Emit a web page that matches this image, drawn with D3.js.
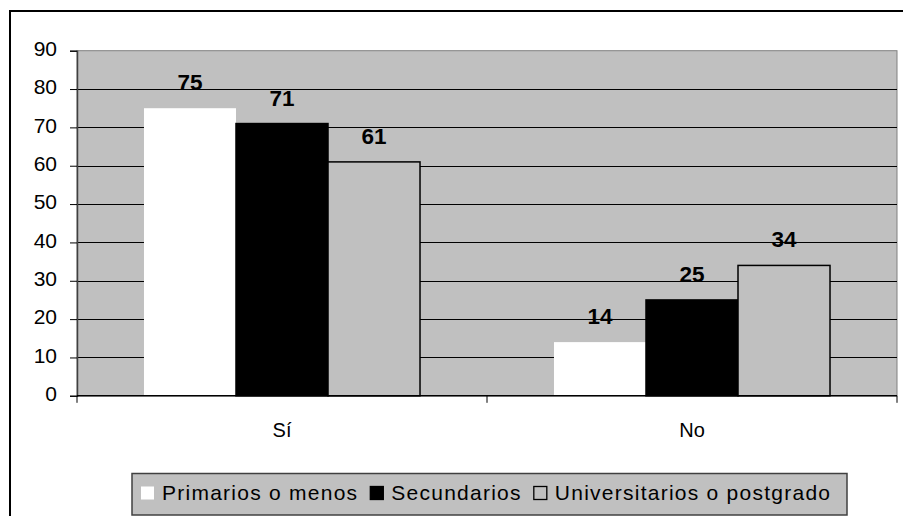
<!DOCTYPE html>
<html>
<head>
<meta charset="utf-8">
<script src="https://cdn.jsdelivr.net/npm/d3@7"></script>
<style>
  html, body { margin: 0; padding: 0; background: #ffffff; }
  svg { display: block; }
  text { font-family: "Liberation Sans", Arial, sans-serif; }
</style>
</head>
<body>
<svg id="chart" width="903" height="516"></svg>
<script>
// ---- data ----
const categories = ["Sí", "No"];
const seriesNames = ["Primarios o menos", "Secundarios", "Universitarios o postgrado"];
const primarios = [75, 14];
const secundarios = [71, 25];
const universitarios = [61, 34];
const yTicks = [0, 10, 20, 30, 40, 50, 60, 70, 80, 90];

// ---- styles ----
const fills = ["#ffffff", "#000000", "#c0c0c0"];
const strokes = ["none", "#000000", "#000000"];
const bg = "#c0c0c0";

const svg = d3.select("#chart");
const W = 903, H = 516;
const plot = { left: 77, right: 897, top: 50.7, bottom: 395.8 };

// outer frame (cropped on right/bottom)
svg.append("rect")
  .attr("x", 10).attr("y", 11)
  .attr("width", W + 20).attr("height", H + 20)
  .attr("fill", "#ffffff").attr("stroke", "#000").attr("stroke-width", 2);

const y = d3.scaleLinear().domain([0, 90]).range([plot.bottom, plot.top]);
const x0 = d3.scaleBand().domain(categories).range([plot.left, plot.right]).paddingInner(0).paddingOuter(0);
const x1 = d3.scaleBand().domain(d3.range(3)).range([0, x0.bandwidth()]).paddingInner(0).paddingOuter(0.728);

// plot area background
svg.append("rect")
  .attr("x", plot.left).attr("y", plot.top)
  .attr("width", plot.right - plot.left).attr("height", plot.bottom - plot.top)
  .attr("fill", bg).attr("stroke", "#808080").attr("stroke-width", 1);

// gridlines
svg.append("g").selectAll("line")
  .data(yTicks.filter(d => d > 0 && d < 90))
  .join("line")
  .attr("x1", plot.left).attr("x2", plot.right)
  .attr("y1", d => Math.round(y(d)) + 0.5).attr("y2", d => Math.round(y(d)) + 0.5)
  .attr("stroke", "#000").attr("stroke-width", 1);

// bars
const values = [primarios, secundarios, universitarios];
const barData = [];
categories.forEach((c, ci) => {
  values.forEach((vals, si) => barData.push({ cat: c, s: si, v: vals[ci] }));
});

svg.append("g").selectAll("rect")
  .data(barData)
  .join("rect")
  .attr("x", d => x0(d.cat) + x1(d.s))
  .attr("y", d => y(d.v))
  .attr("width", x1.bandwidth())
  .attr("height", d => y(0) - y(d.v))
  .attr("fill", d => fills[d.s])
  .attr("stroke", d => strokes[d.s])
  .attr("stroke-width", 1.5);

// value labels
svg.append("g").selectAll("text")
  .data(barData)
  .join("text")
  .attr("x", d => x0(d.cat) + x1(d.s) + x1.bandwidth() / 2)
  .attr("y", d => y(d.v) - 18)
  .attr("text-anchor", "middle")
  .attr("font-size", 22.5)
  .attr("font-weight", "bold")
  .attr("fill", "#000")
  .text(d => d.v);

// y axis
const yAxis = d3.axisLeft(y).tickValues(yTicks).tickSize(7).tickPadding(13).tickFormat(d3.format("d"));
const gy = svg.append("g").attr("transform", `translate(${plot.left},0)`).call(yAxis);
gy.select(".domain").attr("stroke", "#404040").attr("stroke-width", 1.5);
gy.selectAll(".tick line").attr("stroke", "#000");
gy.selectAll(".tick text")
  .attr("font-size", 21)
  .attr("fill", "#000")
  .attr("dy", "0.22em")
  .style("font-family", "'Liberation Sans', Arial, sans-serif");

// x axis
svg.append("line")
  .attr("x1", plot.left).attr("x2", plot.right)
  .attr("y1", y(0)).attr("y2", y(0))
  .attr("stroke", "#000").attr("stroke-width", 1.5);
const sepX = [plot.left].concat(categories.map(c => x0(c) + x0.bandwidth()));
svg.append("g").selectAll("line")
  .data(sepX)
  .join("line")
  .attr("x1", d => d).attr("x2", d => d)
  .attr("y1", y(0)).attr("y2", y(0) + 7)
  .attr("stroke", "#000").attr("stroke-width", 1);

svg.append("g").selectAll("text")
  .data(categories)
  .join("text")
  .attr("x", d => x0(d) + x0.bandwidth() / 2)
  .attr("y", 436.5)
  .attr("text-anchor", "middle")
  .attr("font-size", 20)
  .attr("fill", "#000")
  .text(d => d);

// legend
const leg = svg.append("g");
const legBox = leg.append("rect")
  .attr("x", 132).attr("y", 473.5)
  .attr("width", 715).attr("height", 41.5)
  .attr("fill", bg).attr("stroke", "#404040").attr("stroke-width", 1.5);

let cx = 141;
seriesNames.forEach((name, i) => {
  leg.append("rect")
    .attr("x", cx).attr("y", 486.5)
    .attr("width", 13).attr("height", 13)
    .attr("fill", fills[i])
    .attr("stroke", i === 0 ? "none" : "#000")
    .attr("stroke-width", 1.3);
  const t = leg.append("text")
    .attr("x", cx + 21).attr("y", 500)
    .attr("font-size", 21)
    .attr("letter-spacing", "1.25px")
    .attr("fill", "#000")
    .text(name);
  const w = t.node().getComputedTextLength();
  cx = cx + 21 + w + 12;
});
</script>
</body>
</html>
